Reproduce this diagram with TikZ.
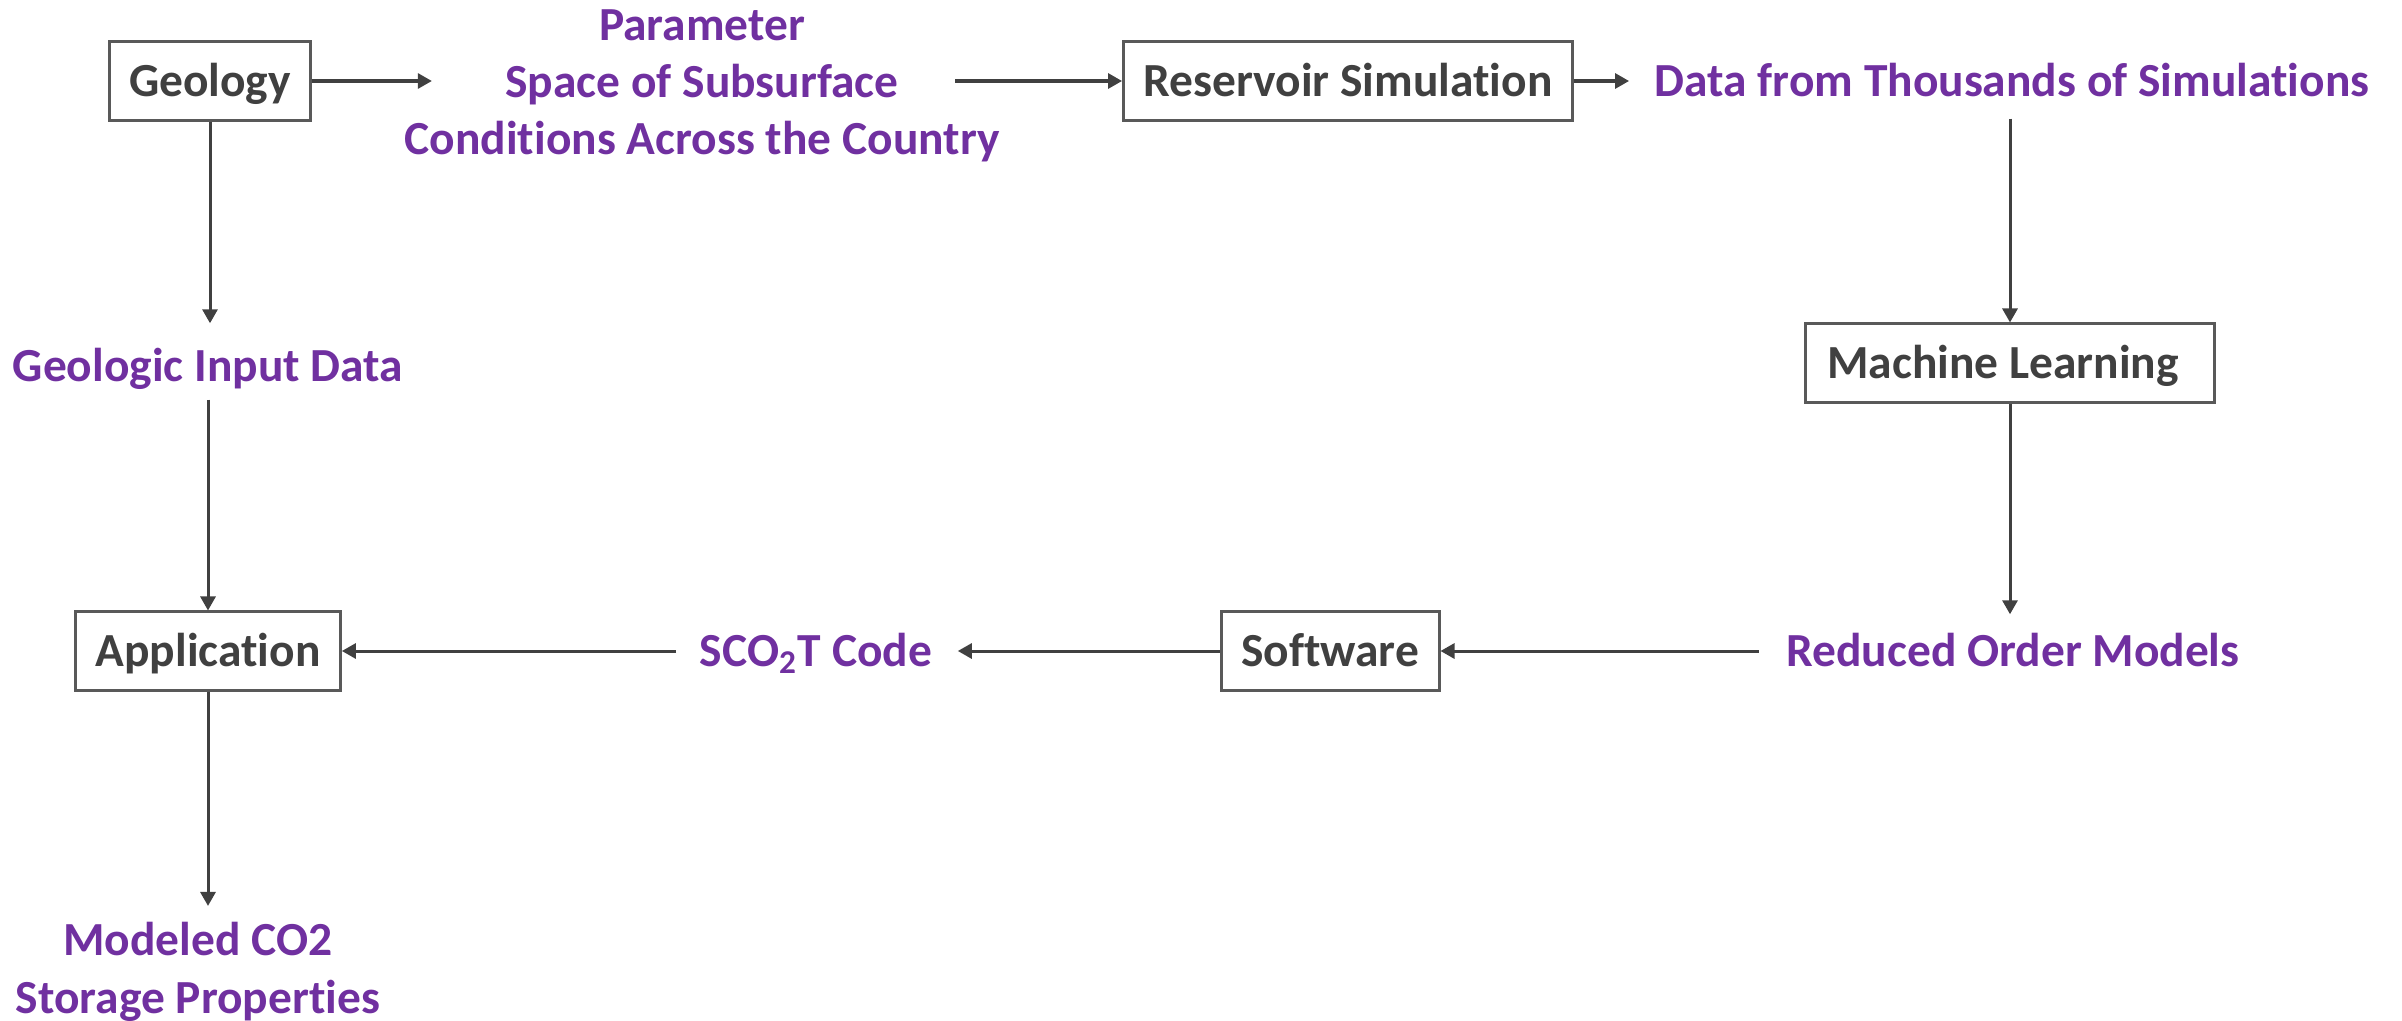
\documentclass[tikz,border=0pt]{standalone}
\usepackage{fontspec}
\setmainfont{Carlito}[Ligatures=NoCommon]
\usetikzlibrary{positioning, arrows.meta}
\definecolor{FlowPurple}{RGB}{112,48,160}
\definecolor{FlowGray}{RGB}{64,64,64}
\definecolor{BoxGray}{RGB}{89,89,89}

\begin{document}
\begin{tikzpicture}[x=0.01cm, y=-0.01cm,
      stage/.style={rectangle, draw=BoxGray, line width=0.03cm, fill=white,
                    minimum height=0.78cm, inner xsep=0.2cm, text=FlowGray,
                    text height=0.36cm, text depth=0.06cm,
                    font=\fontsize{13.5}{16.3}\selectfont\bfseries},
      product/.style={inner sep=0pt, align=center, text=FlowPurple,
                      font=\fontsize{13.5}{16.3}\selectfont\bfseries},
      oneline/.style={product, text height=0.36cm, text depth=0.06cm},
      flow/.style={draw=FlowGray, line width=0.03cm,
                   -{Triangle[length=0.14cm, width=0.15cm]}}
    ]
    \useasboundingbox (0,0) rectangle (2402,1021);

    % Top row
    \node[stage]   (geo)   at (210, 81)  {Geology};
    \node[product] (param) at (702, 86)  {Parameter\\Space of Subsurface\\Conditions Across the Country};
    \node[stage]   (res)   at (1348, 81) {Reservoir Simulation};
    \node[oneline] (data)  at (2012, 81) {Data from Thousands of Simulations};

    % Right column
    \node[stage, minimum width=4.09cm] (ml) at (2010, 363) {Machine Learning\hspace*{0.14cm}};
    \node[oneline] (rom)   at (2013, 651) {Reduced Order Models};

    % Bottom row
    \node[stage]   (sw)    at (1330, 651) {Software};
    \node[oneline] (sco)   at (816, 651)  {SCO\textsubscript{2}T Code};
    \node[stage]   (app)   at (208, 651)  {Application};

    % Left column
    \node[oneline] (gin)   at (208, 366) {Geologic Input Data};
    \node[product] (mod)   at (198, 972) {Modeled CO2\\Storage Properties};

    % Connectors
    \draw[flow, shorten >=-0.28cm] (geo.east) -- (geo.east -| param.west);
    \draw[flow, shorten <=-0.45cm] (res.west -| param.east) -- (res.west);
    \draw[flow, shorten >=0.25cm]  (res.east) -- (data.west);
    \draw[flow, shorten <=0.16cm]  (ml.north |- data.south) -- (ml.north);
    \draw[flow, shorten >=0.15cm]  (ml.south) -- (ml.south |- rom.north);
    \draw[flow, shorten <=0.27cm]  (rom.west) -- (sw.east);
    \draw[flow, shorten >=0.25cm]  (sw.west) -- (sco.east);
    \draw[flow, shorten <=0.23cm]  (sco.west) -- (app.east);
    \draw[flow, shorten >=0.21cm]  (geo.south) -- (geo.south |- gin.north);
    \draw[flow, shorten <=0.12cm]  (app.north |- gin.south) -- (app.north);
    \draw[flow, shorten >=0.16cm]  (app.south) -- (app.south |- mod.north);
  \end{tikzpicture}
\end{document}
